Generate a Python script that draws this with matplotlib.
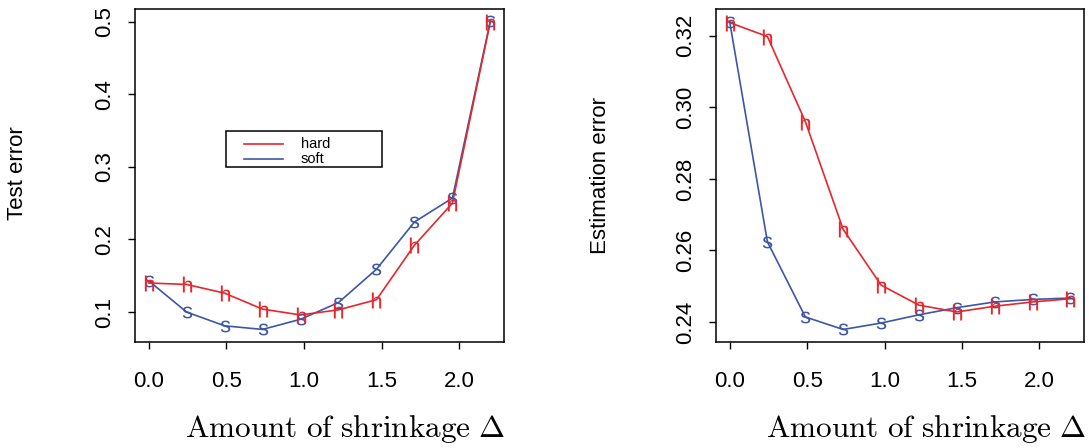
import matplotlib
matplotlib.use("Agg")
import matplotlib.pyplot as plt
from matplotlib.patches import Rectangle

# shrinkage amounts (same for both panels)
shrink = [0.0, 0.244, 0.489, 0.733, 0.978, 1.222, 1.467, 1.711, 1.956, 2.2]

# left panel: test error
test_hard = [0.140, 0.138, 0.126, 0.104, 0.096, 0.103, 0.117, 0.192, 0.250, 0.500]
test_soft = [0.143, 0.100, 0.081, 0.076, 0.090, 0.113, 0.159, 0.224, 0.257, 0.501]

# right panel: estimation error
est_hard = [0.3237, 0.3198, 0.2960, 0.2659, 0.2503, 0.2447, 0.2428, 0.2444, 0.2456, 0.2465]
est_soft = [0.3240, 0.2624, 0.2414, 0.2379, 0.2397, 0.2420, 0.2440, 0.2456, 0.2463, 0.2467]

xticks = [0.0, 0.5, 1.0, 1.5, 2.0]
left_yticks = [0.1, 0.2, 0.3, 0.4, 0.5]
right_yticks = [0.24, 0.26, 0.28, 0.30, 0.32]
legend_labels = ["hard", "soft"]

red = "#e8262b"
blue = "#3c56a8"

plt.rcParams["font.family"] = ["Liberation Sans", "DejaVu Sans"]
plt.rcParams["mathtext.fontset"] = "custom"
plt.rcParams["mathtext.rm"] = "Liberation Sans"

W, H = 1089, 448
fig = plt.figure(figsize=(W / 100, H / 100), dpi=100)


def px_axes(x0, y0, x1, y1):
    # pixel box (from top-left) -> figure axes
    return fig.add_axes([x0 / W, 1 - y1 / H, (x1 - x0) / W, (y1 - y0) / H])


def style(ax, yticks, ylim, yfmt):
    ax.set_xlim(-0.088, 2.288)
    ax.set_ylim(*ylim)
    ax.set_xticks(xticks)
    ax.set_xticklabels(["%.1f" % t for t in xticks])
    ax.set_yticks(yticks)
    ax.set_yticklabels([yfmt % t for t in yticks])
    for s in ax.spines.values():
        s.set_linewidth(1.1)
    ax.tick_params(direction="out", length=5, width=1.0, labelsize=16)
    ax.tick_params(axis="x", pad=16)
    ax.tick_params(axis="y", pad=9)
    for lab in ax.get_yticklabels():
        lab.set_rotation(90)
        lab.set_va("center")
        lab.set_ha("right")


def draw(ax, hard, soft):
    ax.plot(shrink, soft, color=blue, lw=1.2, zorder=2)
    ax.plot(shrink, hard, color=red, lw=1.2, zorder=2)
    ax.plot(shrink, soft, ls="none", marker=r"$\mathrm{s}$", ms=8.5, mew=0, color=blue, zorder=3)
    ax.plot(shrink, hard, ls="none", marker=r"$\mathrm{h}$", ms=11.5, mew=0, color=red, zorder=3)


ax1 = px_axes(135, 9, 504, 342)
draw(ax1, test_hard, test_soft)
style(ax1, left_yticks, (0.0587, 0.5175), "%.1f")

# legend box drawn by hand (R-style, wide box)
def ax_px(x, y):
    return ((x - 135) / 369, (342 - y) / 333)

lx0, ly0 = ax_px(225.7, 166.7)
lx1, ly1 = ax_px(381.7, 130.7)
ax1.add_patch(Rectangle((lx0, ly0), lx1 - lx0, ly1 - ly0, transform=ax1.transAxes,
                        fill=True, facecolor="white", edgecolor="black", lw=1.1, zorder=5))
for i, (lab, col) in enumerate(zip(legend_labels, [red, blue])):
    ypx = 144 + 15 * i
    a = ax_px(244, ypx)
    b = ax_px(283, ypx)
    ax1.plot([a[0], b[0]], [a[1], b[1]], transform=ax1.transAxes, color=col, lw=1.2, zorder=6)
    t = ax_px(301, ypx)
    ax1.text(t[0], t[1], lab, transform=ax1.transAxes, ha="left", va="center",
             fontsize=10.5, zorder=6)

ax2 = px_axes(716, 9, 1084, 342)
draw(ax2, est_hard, est_soft)
style(ax2, right_yticks, (0.2344, 0.3275), "%.2f")

fig.text(18 / W, 1 - 173 / H, "Test error", rotation=90, ha="center", va="center", fontsize=16)
fig.text(601 / W, 1 - 175 / H, "Estimation error", rotation=90, ha="center", va="center", fontsize=16)

xl = r"$\mathrm{Amount\ of\ shrinkage}\ \Delta$"
fig.text(345 / W, 1 - 429 / H, xl, ha="center", va="center", fontsize=22.5, math_fontfamily="cm")
fig.text(926 / W, 1 - 429 / H, xl, ha="center", va="center", fontsize=22.5, math_fontfamily="cm")

fig.savefig("out.png", dpi=100)
